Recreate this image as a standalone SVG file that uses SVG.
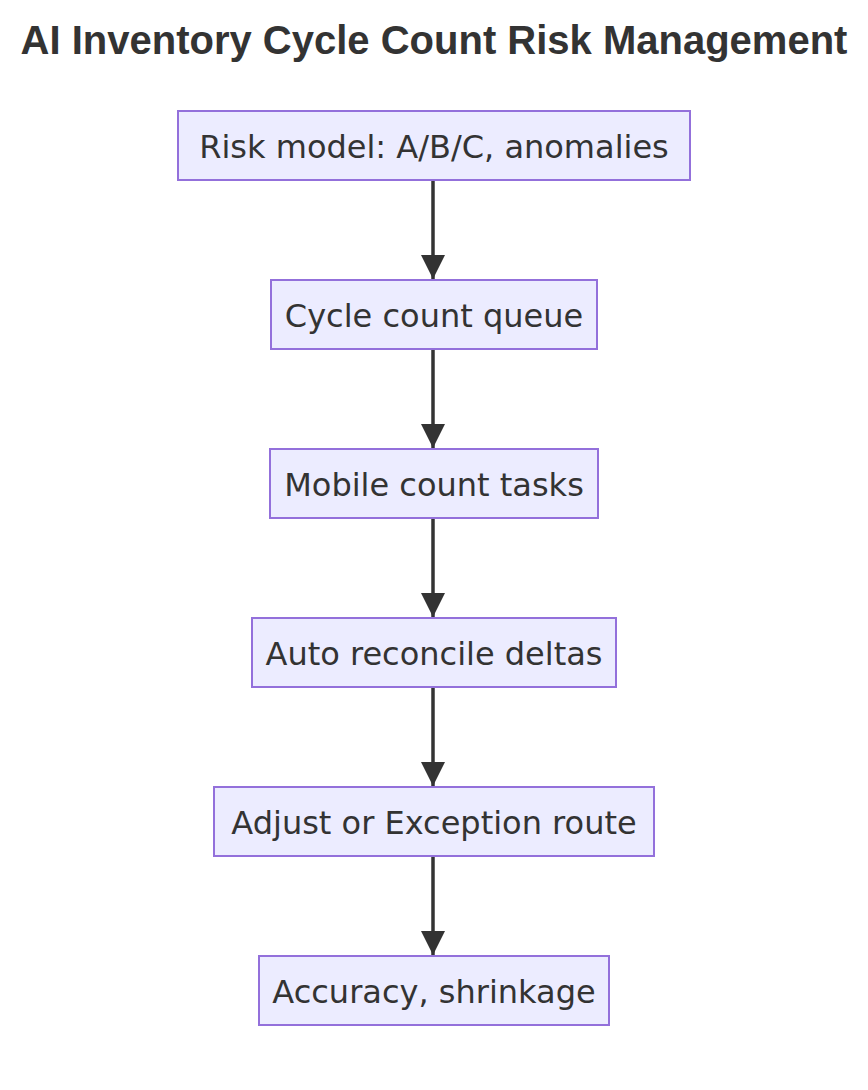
<svg xmlns="http://www.w3.org/2000/svg" width="868" height="1090" viewBox="0 0 868 1090">
<style>
.node rect{fill:#ECECFF;stroke:#9370DB;stroke-width:2}
.node text{font-family:"DejaVu Sans",Verdana,sans-serif;font-size:32px;fill:#333;text-anchor:middle}
.title{font-family:"Liberation Sans",Arial,sans-serif;font-weight:bold;font-size:40px;fill:#333;text-anchor:middle}
.edge{stroke:#333;stroke-width:3.5;fill:none}
</style>
<defs>
<marker id="arrow" markerUnits="userSpaceOnUse" markerWidth="24" markerHeight="24" refX="24" refY="12" orient="auto" viewBox="0 0 24 24">
<path d="M0,0 L24,12 L0,24 Z" fill="#333"/>
</marker>
</defs>
<rect width="868" height="1090" fill="#fff"/>
<text class="title" x="434" y="54">AI Inventory Cycle Count Risk Management</text>
<g id="edges">
<line class="edge" x1="433" y1="181" x2="433" y2="279" marker-end="url(#arrow)"/>
<line class="edge" x1="433" y1="350" x2="433" y2="448" marker-end="url(#arrow)"/>
<line class="edge" x1="433" y1="519" x2="433" y2="617" marker-end="url(#arrow)"/>
<line class="edge" x1="433" y1="688" x2="433" y2="786" marker-end="url(#arrow)"/>
<line class="edge" x1="433" y1="857" x2="433" y2="955" marker-end="url(#arrow)"/>
</g>
<g id="n1" class="node"><rect x="178" y="111" width="512" height="69"/><text x="434" y="158">Risk model: A/B/C, anomalies</text></g>
<g id="n2" class="node"><rect x="271" y="280" width="326" height="69"/><text x="434" y="327">Cycle count queue</text></g>
<g id="n3" class="node"><rect x="270" y="449" width="328" height="69"/><text x="434" y="496">Mobile count tasks</text></g>
<g id="n4" class="node"><rect x="252" y="618" width="364" height="69"/><text x="434" y="665">Auto reconcile deltas</text></g>
<g id="n5" class="node"><rect x="214" y="787" width="440" height="69"/><text x="434" y="834">Adjust or Exception route</text></g>
<g id="n6" class="node"><rect x="259" y="956" width="350" height="69"/><text x="434" y="1003">Accuracy, shrinkage</text></g>
</svg>
